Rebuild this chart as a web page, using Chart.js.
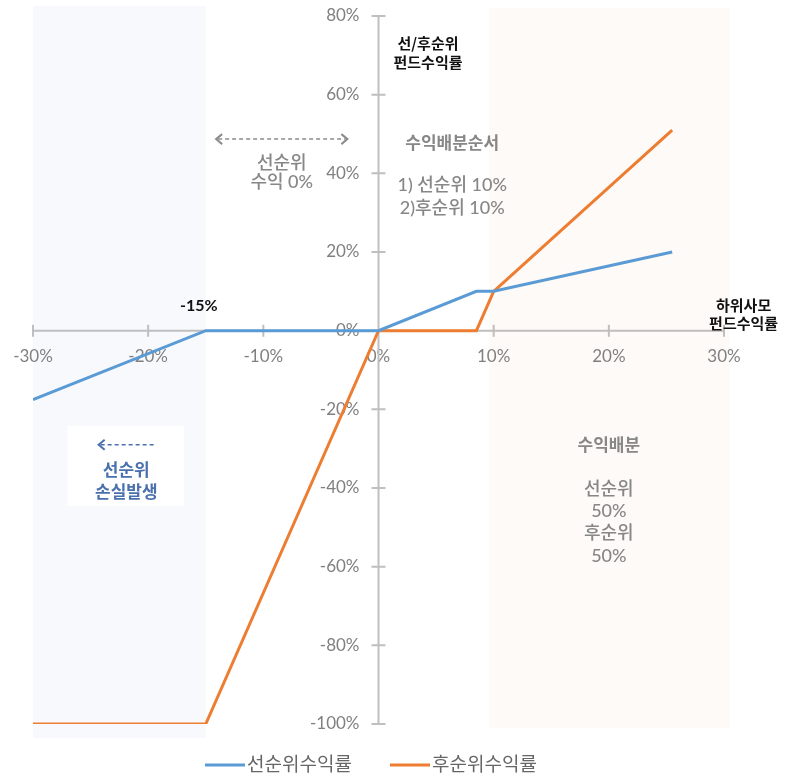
<!DOCTYPE html>
<html>
<head>
<meta charset="utf-8">
<script src="https://cdn.jsdelivr.net/npm/chart.js@4/dist/chart.umd.min.js"></script>
<style>
  body { margin: 0; background: #fff; }
  #wrap { width: 793px; height: 776px; position: relative; }
</style>
</head>
<body>
<div id="wrap"><canvas id="returnChart"></canvas></div>
<script>
// 하위사모 펀드수익률 (x) 과 선/후순위 펀드수익률 (y)
const fundReturns = [-30, -15, 0, 8.5, 10, 25.5];
const seniorReturns = [-17.5, 0, 0, 10, 10, 20];
const juniorReturns = [-100, -100, 0, 0, 10, 51];
const seriesNames = ['선순위수익률', '후순위수익률'];
const xTicks = [-30, -20, -10, 0, 10, 20, 30];
const yTicks = [-100, -80, -60, -40, -20, 0, 20, 40, 60, 80];

const FONT = "Lato, 'Noto Sans CJK KR', sans-serif";
const KFONT = "'Noto Sans CJK KR', sans-serif";
const AXIS = '#bfbfbf';

function toPoints(xs, ys) {
    return xs.map((x, i) => ({ x: x, y: ys[i] }));
}

function arrow(ctx, x1, x2, y, color, both) {
    ctx.save();
    ctx.strokeStyle = color;
    ctx.lineWidth = 1.5;
    ctx.setLineDash([4, 3]);
    ctx.beginPath();
    ctx.moveTo(x1 + 2, y);
    ctx.lineTo(x2 - (both ? 2 : 0), y);
    ctx.stroke();
    ctx.setLineDash([]);
    ctx.lineWidth = 2;
    ctx.beginPath();
    ctx.moveTo(x1 + 6, y - 5); ctx.lineTo(x1, y); ctx.lineTo(x1 + 6, y + 5);
    if (both) {
        ctx.moveTo(x2 - 6, y - 5); ctx.lineTo(x2, y); ctx.lineTo(x2 - 6, y + 5);
    }
    ctx.stroke();
    ctx.restore();
}

const backdrop = {
    id: 'backdrop',
    beforeDraw(chart) {
        const { ctx, scales: { x, y } } = chart;
        // y labels of a centred axis sit flush on the line; move them left a bit
        y.getLabelItems().forEach(it => {
            if (!it._shifted) { it.options.translation[0] -= 19; it._shifted = true; }
        });
        ctx.save();
        ctx.fillStyle = '#f8f9fc';
        ctx.fillRect(x.getPixelForValue(-30), 6, x.getPixelForValue(-15) - x.getPixelForValue(-30), 732);
        ctx.fillStyle = '#fefaf7';
        ctx.fillRect(x.getPixelForValue(9.6), 8, x.getPixelForValue(30.5) - x.getPixelForValue(9.6), 720);
        // white box behind the loss note
        ctx.fillStyle = '#ffffff';
        ctx.fillRect(x.getPixelForValue(-27), y.getPixelForValue(-24.2), x.getPixelForValue(-16.9) - x.getPixelForValue(-27), y.getPixelForValue(-44.6) - y.getPixelForValue(-24.2));
        ctx.restore();
    },
    beforeDatasetsDraw(chart) {
        const { ctx, scales: { x, y } } = chart;
        const x0 = x.getPixelForValue(0), y0 = y.getPixelForValue(0);
        ctx.save();
        ctx.strokeStyle = AXIS;
        ctx.lineWidth = 2;
        ctx.beginPath();
        ctx.moveTo(x.getPixelForValue(xTicks[0]), y0);
        ctx.lineTo(x.getPixelForValue(xTicks[xTicks.length - 1]), y0);
        ctx.moveTo(x0, y.getPixelForValue(yTicks[yTicks.length - 1]));
        ctx.lineTo(x0, y.getPixelForValue(yTicks[0]));
        xTicks.forEach(v => {
            const px = x.getPixelForValue(v);
            ctx.moveTo(px, y0 - 6); ctx.lineTo(px, y0 + 6);
        });
        yTicks.forEach(v => {
            const py = y.getPixelForValue(v);
            ctx.moveTo(x0 - 7, py); ctx.lineTo(x0 + 7, py);
        });
        ctx.stroke();
        ctx.restore();
    },
    afterDraw(chart) {
        const { ctx, scales: { x, y } } = chart;
        const X = v => x.getPixelForValue(v), Y = v => y.getPixelForValue(v);
        ctx.save();
        ctx.textAlign = 'center';
        ctx.textBaseline = 'middle';

        ctx.fillStyle = '#111';
        ctx.font = 'bold 15px ' + KFONT;
        ctx.fillText('선/후순위', X(4.3), Y(73.1));
        ctx.fillText('펀드수익률', X(4.3), Y(68.3));
        ctx.fillText('하위사모', X(31.7), Y(6.4));
        ctx.fillText('펀드수익률', X(31.7), Y(1.8));
        ctx.font = 'bold 16px ' + FONT;
        ctx.fillText('-15%', X(-15.6), Y(6.4));

        ctx.fillStyle = '#878787';
        ctx.font = '500 18px ' + FONT;
        ctx.fillText('선순위', X(-8.4), Y(42.5));
        ctx.fillText('수익 0%', X(-8.4), Y(37.7));
        arrow(ctx, X(-14.1), X(-2.7), Y(48.7), '#8c8c8c', true);

        ctx.font = 'bold 17px ' + KFONT;
        ctx.fillText('수익배분순서', X(6.4), Y(47.9));
        ctx.font = '500 18px ' + FONT;
        ctx.fillText('1) 선순위 10%', X(6.4), Y(36.9));
        ctx.fillText('2)후순위 10%', X(6.4), Y(31.1));

        ctx.font = 'bold 17px ' + KFONT;
        ctx.fillText('수익배분', X(20), Y(-29));
        ctx.font = '500 18px ' + FONT;
        ctx.fillText('선순위', X(20), Y(-40.3));
        ctx.fillText('50%', X(20), Y(-45.9));
        ctx.fillText('후순위', X(20), Y(-51.5));
        ctx.fillText('50%', X(20), Y(-57.3));

        ctx.fillStyle = '#4a70ad';
        ctx.font = 'bold 17px ' + KFONT;
        ctx.fillText('선순위', X(-21.9), Y(-35.2));
        ctx.fillText('손실발생', X(-21.9), Y(-40.8));
        arrow(ctx, X(-24.3), X(-19.5), Y(-29), '#4a70ad', false);

        // legend
        const items = chart.data.datasets;
        const starts = [205, 390];
        ctx.textAlign = 'left';
        ctx.font = '19px ' + KFONT;
        items.forEach((ds, i) => {
            ctx.strokeStyle = ds.borderColor;
            ctx.lineWidth = 3;
            ctx.beginPath();
            ctx.moveTo(starts[i], 765); ctx.lineTo(starts[i] + 40, 765);
            ctx.stroke();
            ctx.fillStyle = '#666';
            ctx.fillText(ds.label, starts[i] + 42, 764);
        });
        ctx.restore();
    }
};

new Chart(document.getElementById('returnChart'), {
    type: 'scatter',
    data: {
        datasets: [{
            label: seriesNames[0],
            data: toPoints(fundReturns, seniorReturns),
            borderColor: '#5b9bd5',
            backgroundColor: '#5b9bd5',
            showLine: true,
            borderWidth: 3,
            pointRadius: 0,
            tension: 0
        }, {
            label: seriesNames[1],
            data: toPoints(fundReturns, juniorReturns),
            borderColor: '#ed7d31',
            backgroundColor: '#ed7d31',
            showLine: true,
            borderWidth: 3,
            pointRadius: 0,
            tension: 0
        }]
    },
    options: {
        responsive: true,
        maintainAspectRatio: false,
        animation: false,
        layout: { padding: { left: 33, right: 69, top: 16, bottom: 52 } },
        plugins: {
            legend: { display: false },
            tooltip: { enabled: false }
        },
        scales: {
            x: {
                type: 'linear',
                position: { y: 0 },
                min: -30, max: 30,
                afterBuildTicks: s => { s.ticks = xTicks.map(v => ({ value: v })); },
                grid: { display: true, drawOnChartArea: false, color: 'rgba(0,0,0,0)', drawTicks: true, tickLength: 16 },
                border: { display: false },
                ticks: {
                    padding: 0,
                    color: '#808080',
                    font: { family: FONT, size: 17 },
                    callback: v => v + '%'
                }
            },
            y: {
                type: 'linear',
                position: { x: 0 },
                min: -100, max: 80,
                afterBuildTicks: s => { s.ticks = yTicks.map(v => ({ value: v })); },
                grid: { display: false, drawTicks: false },
                border: { display: false },
                ticks: {
                    padding: 0,
                    color: '#808080',
                    font: { family: FONT, size: 17 },
                    callback: v => v + '%'
                }
            }
        }
    },
    plugins: [backdrop]
});
</script>
</body>
</html>
